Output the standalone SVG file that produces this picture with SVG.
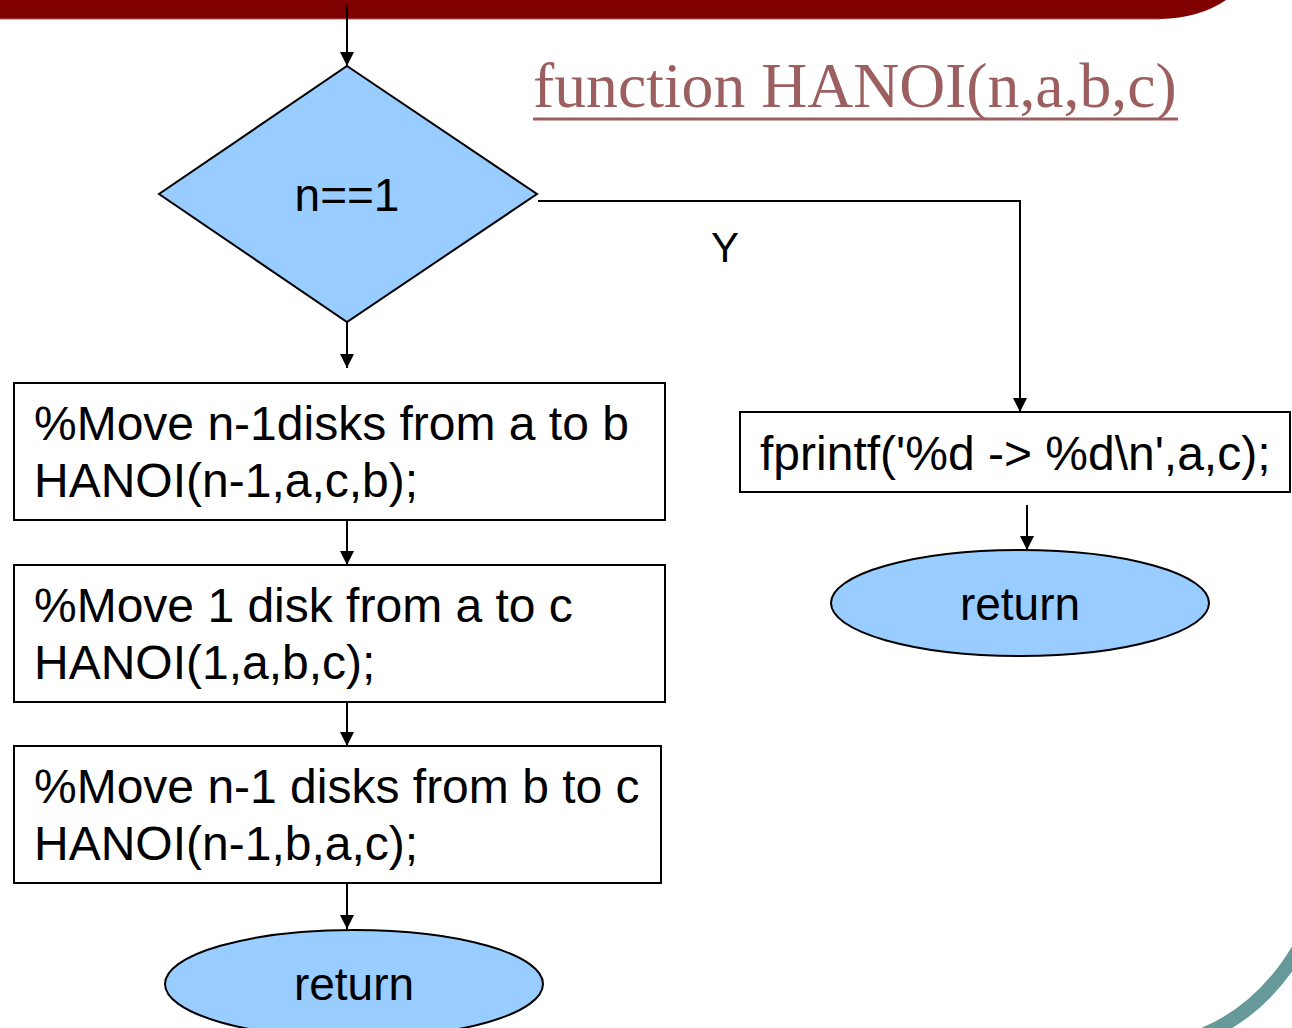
<svg xmlns="http://www.w3.org/2000/svg" width="1292" height="1028" viewBox="0 0 1292 1028">
<style>
.t{font-family:"Liberation Sans",Arial,sans-serif;fill:#000}
.box{fill:#fff;stroke:#000;stroke-width:2}
.blue{fill:#99ccff;stroke:#000;stroke-width:2}
.c{stroke:#000;stroke-width:2;fill:none}
</style>
<defs>
<marker id="ah" viewBox="0 0 10 10" refX="10" refY="5" markerWidth="15" markerHeight="14" markerUnits="userSpaceOnUse" orient="auto">
<path d="M0,0 L10,5 L0,10 z" fill="#000"/>
</marker>
</defs>
<rect width="1292" height="1028" fill="#fff"/>
<g id="banner">
<path d="M0,0 H1226 Q1200,18 1160,19 H0 z" fill="#800000"/>
<path d="M0,19 H1160" stroke="#b06060" stroke-width="1"/>
</g>
<path id="corner" d="M1298,950 Q1262,1010 1205,1034" fill="none" stroke="#669999" stroke-width="14"/>
<g id="title">
<text x="533" y="107" font-family="Liberation Serif,'Times New Roman',serif" font-size="63.7" fill="#9b5f5f">function HANOI(n,a,b,c)</text>
<line x1="533" y1="119" x2="1178" y2="119" stroke="#9b5f5f" stroke-width="3"/>
</g>
<g id="connectors">
<path class="c" d="M347,5 V66" marker-end="url(#ah)"/>
<path class="c" d="M347,322 V368" marker-end="url(#ah)"/>
<path class="c" d="M347,520 V565" marker-end="url(#ah)"/>
<path class="c" d="M347,702 V746" marker-end="url(#ah)"/>
<path class="c" d="M347,883 V929" marker-end="url(#ah)"/>
<path class="c" d="M538,201 H1020 V412" marker-end="url(#ah)"/>
<path class="c" d="M1027,505 V550" marker-end="url(#ah)"/>
<text class="t" x="711" y="262" font-size="42">Y</text>
</g>
<g id="decision">
<polygon class="blue" points="347,66 537,194 347,322 159,194"/>
<text class="t" x="347" y="211" font-size="46" text-anchor="middle">n==1</text>
</g>
<g id="step1">
<rect class="box" x="14" y="383" width="651" height="137"/>
<text class="t" x="34" y="440" font-size="48">%Move n-1disks from a to b</text>
<text class="t" x="34" y="497" font-size="48">HANOI(n-1,a,c,b);</text>
</g>
<g id="step2">
<rect class="box" x="14" y="565" width="651" height="137"/>
<text class="t" x="34" y="622" font-size="48">%Move 1 disk from a to c</text>
<text class="t" x="34" y="679" font-size="48">HANOI(1,a,b,c);</text>
</g>
<g id="step3">
<rect class="box" x="14" y="746" width="647" height="137"/>
<text class="t" x="34" y="803" font-size="48">%Move n-1 disks from b to c</text>
<text class="t" x="34" y="860" font-size="48">HANOI(n-1,b,a,c);</text>
</g>
<g id="return1">
<ellipse class="blue" cx="354" cy="984" rx="189" ry="54"/>
<text class="t" x="354" y="1000" font-size="46" text-anchor="middle">return</text>
</g>
<g id="print">
<rect class="box" x="740" y="412" width="550" height="80"/>
<text class="t" x="760" y="470" font-size="48">fprintf('%d -&gt; %d\n',a,c);</text>
</g>
<g id="return2">
<ellipse class="blue" cx="1020" cy="603" rx="189" ry="53"/>
<text class="t" x="1020" y="620" font-size="46" text-anchor="middle">return</text>
</g>
</svg>
